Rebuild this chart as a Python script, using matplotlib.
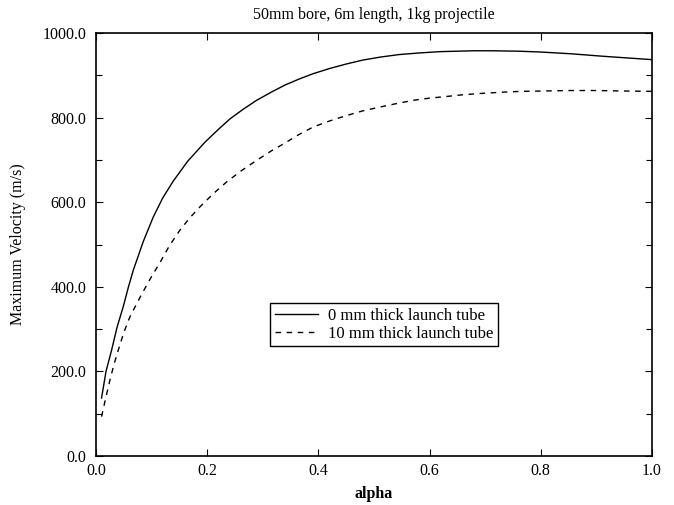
import numpy as np
import matplotlib
matplotlib.use("Agg")
import matplotlib.pyplot as plt
from matplotlib.ticker import MultipleLocator, FormatStrFormatter

plt.rcParams['font.family'] = ['Liberation Serif', 'DejaVu Serif']

# solid: 0 mm thick launch tube
alpha_0 = [0.010, 0.018, 0.028, 0.038, 0.049, 0.058, 0.067, 0.085, 0.103, 0.120, 0.139,
           0.165, 0.196, 0.220, 0.241, 0.265, 0.289, 0.315, 0.340, 0.365,
           0.391, 0.420, 0.451, 0.480, 0.511, 0.545, 0.583, 0.620, 0.650, 0.680,
           0.710, 0.760, 0.800, 0.853, 0.912, 1.0]
vel_0 = [137, 200, 250, 305, 353, 398, 439, 507, 565, 610, 650,
         697, 742, 772, 797, 820, 841, 860, 877, 891,
         904, 916, 927, 936, 943, 949, 953, 956, 957, 958,
         958, 957, 955, 951, 945, 937]

# dashed: 10 mm thick launch tube
alpha_10 = [0.010, 0.018, 0.025, 0.032, 0.040, 0.050, 0.061, 0.072, 0.082, 0.098, 0.115,
            0.132, 0.151, 0.168, 0.187, 0.210, 0.235, 0.262, 0.289, 0.315,
            0.340, 0.365, 0.391, 0.420, 0.451, 0.480, 0.511, 0.540, 0.571, 0.600,
            0.631, 0.660, 0.691, 0.730, 0.763, 0.810, 0.853, 0.900, 0.943, 1.0]
vel_10 = [93, 140, 179, 215, 250, 292, 329, 357, 382, 420, 457,
          497, 534, 562, 589, 619, 648, 675, 699, 721,
          740, 760, 778, 792, 805, 816, 825, 833, 841, 846,
          850, 854, 857, 860, 862, 863, 864, 864, 863, 862]

fig = plt.figure(figsize=(6.74, 5.05), dpi=100)
ax = fig.add_axes([96/674, 1 - 456/505, 556/674, 423/505])

ax.plot(alpha_0, vel_0, color='black', lw=1.0, label='0 mm thick launch tube')
ax.plot(alpha_10, vel_10, color='black', lw=1.0, ls=(0, (4, 4)), label='10 mm thick launch tube')

ax.set_xlim(0, 1.0)
ax.set_ylim(0, 1000)
ax.xaxis.set_major_locator(MultipleLocator(0.2))
ax.yaxis.set_major_locator(MultipleLocator(200))
ax.yaxis.set_minor_locator(MultipleLocator(100))
ax.xaxis.set_major_formatter(FormatStrFormatter('%.1f'))
ax.yaxis.set_major_formatter(FormatStrFormatter('%.1f'))
ax.tick_params(which='both', direction='in', top=True, right=True, labelsize=11.5)
ax.tick_params(which='major', length=5, width=0.8)
ax.tick_params(which='minor', length=4, width=0.8)
ax.tick_params(axis='x', pad=5)
ax.tick_params(axis='y', pad=7)
for s in ax.spines.values():
    s.set_linewidth(1.2)

ax.set_title('50mm bore, 6m length, 1kg projectile', fontsize=11.5, pad=10)
ax.set_xlabel('alpha', fontsize=11.5, fontweight='bold', labelpad=5)
ax.set_ylabel('Maximum Velocity (m/s)', fontsize=11.5, labelpad=12)

leg = ax.legend(loc='center', bbox_to_anchor=(0.518, 0.31), fontsize=12,
                frameon=True, fancybox=False, edgecolor='black', framealpha=1,
                handlelength=2.6, borderpad=0.25, labelspacing=0.15, handletextpad=0.6)
leg.get_frame().set_linewidth(1.0)

fig.savefig('out.png', dpi=100)
